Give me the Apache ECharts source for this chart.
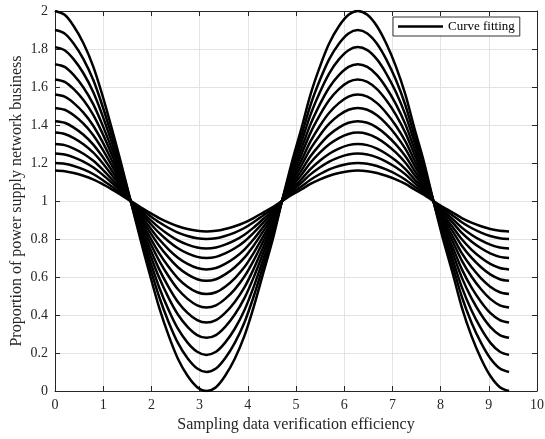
<!DOCTYPE html>
<html>
<head>
<meta charset="utf-8">
<script src="https://cdn.jsdelivr.net/npm/echarts@6/dist/echarts.min.js"></script>
<style>
html,body{margin:0;padding:0;background:#fff;}
#main{width:545px;height:439px;}
</style>
</head>
<body>
<div id="main"></div>
<script>
// x positions where the curves were read (steps of about pi/16)
var xs = [0,0.20,0.39,0.59,0.79,0.98,1.18,1.37,1.57,1.77,1.96,2.16,2.36,2.55,2.75,2.95,3.14,
  3.34,3.53,3.73,3.93,4.12,4.32,4.52,4.71,4.91,5.11,5.30,5.50,5.69,5.89,6.09,6.28,
  6.48,6.68,6.87,7.07,7.27,7.46,7.66,7.85,8.05,8.25,8.44,8.64,8.84,9.03,9.23,9.42];
// outermost curve values read at those positions
var outer = [2,1.98,1.92,1.83,1.71,1.56,1.38,1.20,1,0.80,0.62,0.44,0.29,0.17,0.08,0.02,0,
  0.02,0.08,0.17,0.29,0.44,0.62,0.80,1,1.20,1.38,1.56,1.71,1.83,1.92,1.98,2,
  1.98,1.92,1.83,1.71,1.56,1.38,1.20,1,0.80,0.62,0.44,0.29,0.17,0.08,0.02,0];
// peak height above 1 of each curve, read at x=0
var amps = [1.0,0.9,0.81,0.72,0.64,0.56,0.49,0.42,0.36,0.30,0.25,0.20,0.16];
var xTicks = [0,1,2,3,4,5,6,7,8,9,10];
var yTicks = [0,0.2,0.4,0.6,0.8,1,1.2,1.4,1.6,1.8,2];

var chart = echarts.init(document.getElementById('main'));
var font = 'Liberation Serif';
var series = [];
for (var k = 0; k < amps.length; k++) {
  var d = [];
  for (var i = 0; i < xs.length; i++) {
    d.push([xs[i], 1 + amps[k] * (outer[i] - 1)]);
  }
  series.push({
    name: 'Curve fitting',
    type: 'line',
    data: d,
    smooth: 0.3,
    symbol: 'none',
    lineStyle: {color: '#000', width: 2.5},
    itemStyle: {color: '#000'},
    z: 3
  });
}
var axisCommon = {
  type: 'value',
  axisLine: {show: true, onZero: false, lineStyle: {color: '#262626', width: 1}},
  axisTick: {show: true, inside: true, length: 5, lineStyle: {color: '#262626'}},
  splitLine: {show: false}
};
var option = {
  animation: false,
  textStyle: {fontFamily: font},
  grid: {left: 55, right: 8, top: 11, bottom: 48, containLabel: false, outerBoundsMode: 'none'},
  legend: {
    left: 393, top: 17,
    data: ['Curve fitting'],
    icon: 'rect',
    itemWidth: 45, itemHeight: 2.5,
    padding: [3, 5, 3, 5],
    borderColor: '#333', borderWidth: 1, borderRadius: 0,
    backgroundColor: '#fff',
    textStyle: {fontFamily: font, fontSize: 13, color: '#000'}
  },
  xAxis: [
    Object.assign({}, axisCommon, {
      min: 0, max: 10, interval: 1, position: 'bottom',
      name: 'Sampling data verification efficiency',
      nameLocation: 'middle', nameGap: 25,
      nameTextStyle: {fontFamily: font, fontSize: 16, color: '#262626'},
      axisLabel: {fontFamily: font, fontSize: 14, color: '#262626', margin: 7,
        formatter: function(v){ return xTicks.indexOf(v) >= 0 ? String(v) : ''; }},
      splitLine: {show: true, lineStyle: {color: '#e3e3e3', width: 1}}
    }),
    Object.assign({}, axisCommon, {
      min: 0, max: 10, interval: 1, position: 'top',
      axisLabel: {show: false}
    })
  ],
  yAxis: [
    Object.assign({}, axisCommon, {
      min: 0, max: 2, interval: 0.2, position: 'left',
      name: 'Proportion of power supply network business',
      nameLocation: 'middle', nameGap: 30, nameMoveOverlap: false,
      nameTextStyle: {fontFamily: font, fontSize: 16, color: '#262626'},
      axisLabel: {fontFamily: font, fontSize: 14, color: '#262626', margin: 7,
        formatter: function(v){
          var r = Math.round(v * 10) / 10;
          return yTicks.indexOf(r) >= 0 ? String(r) : '';
        }},
      splitLine: {show: true, lineStyle: {color: '#e3e3e3', width: 1}}
    }),
    Object.assign({}, axisCommon, {
      min: 0, max: 2, interval: 0.2, position: 'right',
      axisLabel: {show: false}
    })
  ],
  series: series
};
chart.setOption(option);
</script>
</body>
</html>
